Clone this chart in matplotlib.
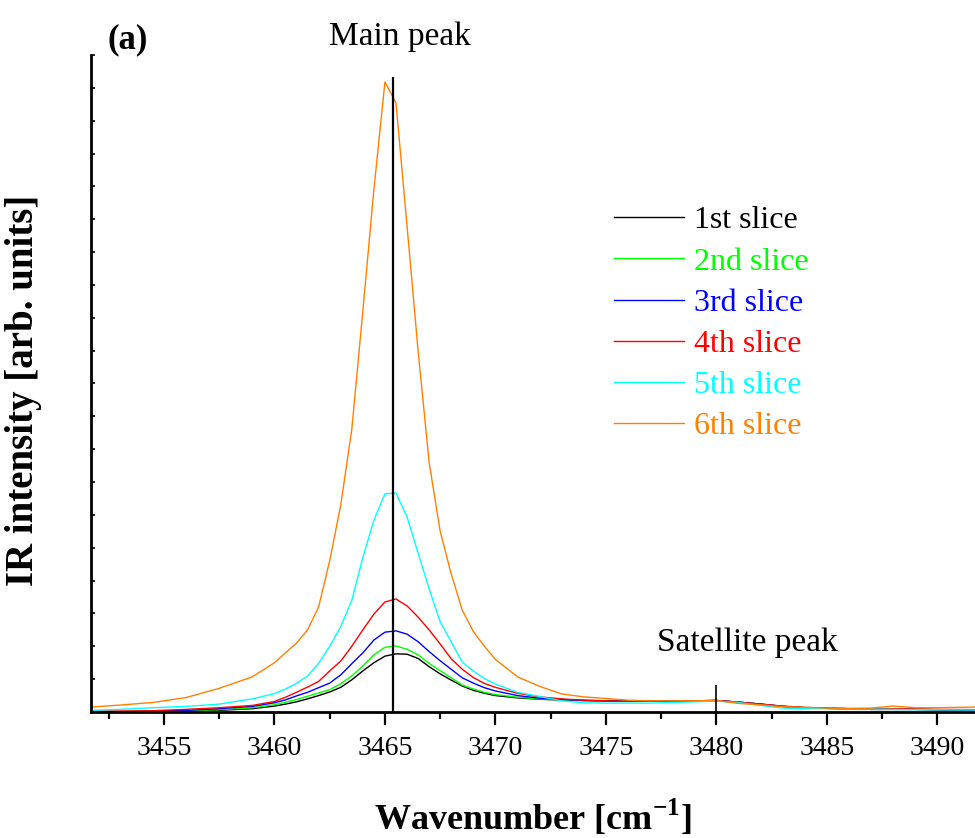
import numpy as np
import matplotlib
matplotlib.use("Agg")
import matplotlib.pyplot as plt
from matplotlib.ticker import MultipleLocator

# --- data ---
wavenumber = [3451.7, 3453, 3454.5, 3456, 3457.5, 3459, 3460, 3460.5, 3461, 3461.5,
              3462, 3462.5, 3463, 3463.5, 3464, 3464.5, 3465, 3465.5, 3466, 3466.5,
              3467, 3467.5, 3468, 3468.5, 3469, 3469.5, 3470, 3471, 3472, 3473,
              3474, 3475, 3476, 3477, 3478, 3479, 3480, 3481, 3482, 3483,
              3484, 3485, 3486, 3487, 3488, 3489, 3490, 3491.7]

slice1 = [0.00, 0.01, 0.02, 0.03, 0.05, 0.10, 0.18, 0.24, 0.31, 0.40,
          0.50, 0.61, 0.75, 0.98, 1.25, 1.50, 1.70, 1.77, 1.76, 1.63,
          1.38, 1.16, 0.97, 0.79, 0.66, 0.57, 0.50, 0.43, 0.39, 0.36,
          0.35, 0.34, 0.33, 0.33, 0.33, 0.34, 0.35, 0.30, 0.24, 0.17,
          0.13, 0.11, 0.10, 0.08, 0.08, 0.08, 0.07, 0.06]
slice2 = [0.01, 0.01, 0.02, 0.04, 0.07, 0.13, 0.22, 0.30, 0.38, 0.48,
          0.58, 0.68, 0.86, 1.10, 1.40, 1.74, 1.97, 2.01, 1.91, 1.74,
          1.48, 1.26, 1.04, 0.82, 0.70, 0.60, 0.53, 0.45, 0.40, 0.37,
          0.35, 0.34, 0.33, 0.33, 0.33, 0.34, 0.35, 0.30, 0.24, 0.17,
          0.13, 0.11, 0.10, 0.08, 0.08, 0.08, 0.07, 0.06]
slice3 = [0.01, 0.01, 0.02, 0.05, 0.10, 0.17, 0.28, 0.37, 0.49, 0.60,
          0.74, 0.88, 1.13, 1.47, 1.80, 2.19, 2.43, 2.47, 2.37, 2.14,
          1.84, 1.56, 1.30, 1.04, 0.88, 0.74, 0.64, 0.50, 0.42, 0.38,
          0.35, 0.34, 0.33, 0.33, 0.33, 0.34, 0.35, 0.30, 0.24, 0.17,
          0.13, 0.11, 0.10, 0.08, 0.08, 0.08, 0.07, 0.06]
slice4 = [0.03, 0.03, 0.04, 0.08, 0.13, 0.20, 0.32, 0.45, 0.60, 0.76,
          0.93, 1.25, 1.55, 2.00, 2.50, 2.98, 3.35, 3.44, 3.23, 2.89,
          2.50, 2.07, 1.62, 1.30, 1.05, 0.87, 0.75, 0.57, 0.46, 0.40,
          0.36, 0.34, 0.33, 0.33, 0.33, 0.34, 0.35, 0.30, 0.24, 0.18,
          0.14, 0.12, 0.10, 0.09, 0.10, 0.09, 0.08, 0.07]
slice5 = [0.05, 0.08, 0.13, 0.17, 0.24, 0.40, 0.56, 0.70, 0.87, 1.10,
          1.48, 2.00, 2.60, 3.40, 4.70, 5.84, 6.64, 6.67, 5.94, 4.84,
          3.75, 2.75, 2.13, 1.52, 1.25, 1.02, 0.85, 0.60, 0.47, 0.34,
          0.28, 0.27, 0.27, 0.27, 0.29, 0.31, 0.33, 0.29, 0.20, 0.12,
          0.10, 0.10, 0.09, 0.09, 0.08, 0.07, 0.07, 0.06]
slice6 = [0.15, 0.21, 0.29, 0.44, 0.72, 1.07, 1.50, 1.80, 2.10, 2.50,
          3.20, 4.60, 6.30, 8.60, 12.20, 15.90, 19.18, 18.54, 14.80, 11.00,
          7.60, 5.50, 4.20, 3.10, 2.45, 2.00, 1.60, 1.07, 0.78, 0.55,
          0.46, 0.41, 0.36, 0.34, 0.34, 0.34, 0.35, 0.26, 0.22, 0.16,
          0.14, 0.12, 0.11, 0.12, 0.18, 0.13, 0.13, 0.15]

series = [slice1, slice2, slice3, slice4, slice5, slice6]
labels = ["1st slice", "2nd slice", "3rd slice", "4th slice", "5th slice", "6th slice"]
colors = ["#000000", "#00ff00", "#0000ff", "#ff0000", "#00ffff", "#ff8000"]

main_peak = 3465.38
main_peak_top = 19.33
sat_peak = 3480.0
sat_peak_top = 0.82

# --- style ---
plt.rcParams["font.family"] = ["Liberation Serif", "DejaVu Serif"]
plt.rcParams["mathtext.fontset"] = "custom"
plt.rcParams["mathtext.rm"] = "Liberation Serif"
plt.rcParams["mathtext.bf"] = "Liberation Serif:bold"

fig = plt.figure(figsize=(9.75, 8.38), dpi=100)
ax = fig.add_axes([91 / 975, 1 - 712 / 838, 884 / 975, 657 / 838])

for ys, lab, c in zip(series, labels, colors):
    ax.plot(wavenumber, ys, color=c, lw=1.0, label=lab)

ax.vlines(main_peak, 0, main_peak_top, color="black", lw=1.6, zorder=5)
ax.vlines(sat_peak, 0, sat_peak_top, color="black", lw=1.2, zorder=5)

ax.set_xlim(3451.7, 3491.7)
ax.set_ylim(0, 20)

for side in ("top", "right"):
    ax.spines[side].set_visible(False)
for side in ("left", "bottom"):
    ax.spines[side].set_linewidth(2.0)

ax.xaxis.set_major_locator(MultipleLocator(5))
ax.xaxis.set_minor_locator(MultipleLocator(2.5))
ax.tick_params(axis="x", which="major", direction="out", length=9.5, width=1.6,
               labelsize=20, pad=8)
ax.tick_params(axis="x", which="minor", direction="out", length=5, width=1.6)
ax.yaxis.set_major_locator(MultipleLocator(1))
ax.tick_params(axis="y", which="major", direction="in", length=3, width=1.2,
               labelleft=False)

ax.text(3465.7, 20.55, "Main peak", fontsize=24, ha="center", va="center", clip_on=False)
ax.text(3481.4, 2.12, "Satellite peak", fontsize=24, ha="center", va="center")
fig.text(128 / 975, 1 - 40 / 838, "(a)", fontsize=25, fontweight="bold",
         ha="center", va="center")

fig.text(533 / 975, 1 - 830 / 838, r"Wavenumber [cm$^{\mathbf{-1}}$]", fontsize=26,
         fontweight="bold", ha="center", va="baseline")
fig.text(24 / 975, 1 - 390 / 838, "IR intensity [arb. units]", fontsize=28,
         fontweight="bold", ha="center", va="center", rotation=90)

leg = ax.legend(loc="upper left", bbox_to_anchor=(614 / 975, 1 - 206 / 838),
                bbox_transform=fig.transFigure, frameon=False, fontsize=23,
                handlelength=2.2, handletextpad=0.31, labelspacing=0.37,
                labelcolor="linecolor", borderaxespad=0, borderpad=0)

fig.savefig("out.png", dpi=100)
